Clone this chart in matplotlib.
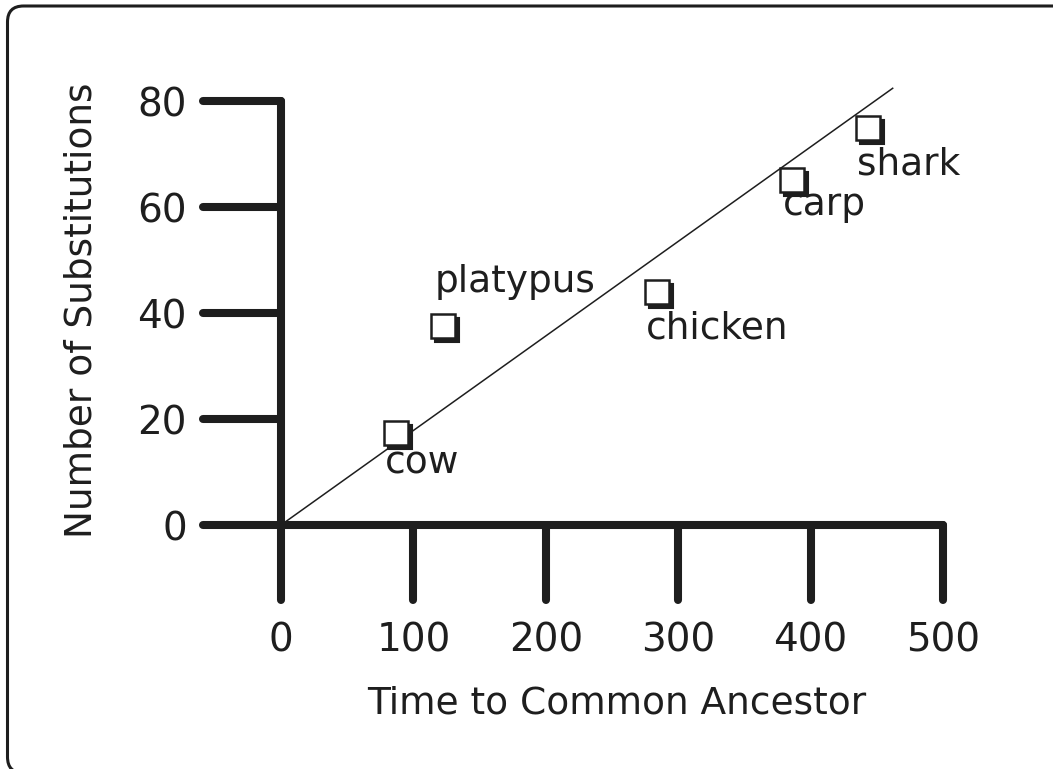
import matplotlib.pyplot as plt
from matplotlib.patches import FancyBboxPatch
from matplotlib.transforms import offset_copy, IdentityTransform

# data
animals = ["cow", "platypus", "chicken", "carp", "shark"]
time_ma = [87, 122, 284, 386, 443]
substitutions = [17.4, 37.6, 44.0, 65.1, 74.9]
fit_x = [0, 462]
fit_y = [0, 82.4]
x_ticks = [0, 100, 200, 300, 400, 500]
y_ticks = [0, 20, 40, 60, 80]

# label offsets (points) relative to each marker
label_offsets = {
    "cow": (-8, -29.5),
    "platypus": (-5.4, 24.5),
    "chicken": (-7.8, -33.5),
    "carp": (-6.5, -25.2),
    "shark": (-7.7, -33.8),
}

W, H = 1053, 769
fig = plt.figure(figsize=(W / 100, H / 100), dpi=100)
ink = "#1e1e1e"
fs = 28

# rounded frame, right and bottom edges run off the image
frame = FancyBboxPatch((7.5, -4), 1068, H - 5 + 4 - 1,
                       boxstyle="round,pad=0,rounding_size=16",
                       transform=IdentityTransform(), fill=False,
                       edgecolor=ink, linewidth=2.2, zorder=0)
fig.patches.append(frame)

xmin, ymin = -58.9, -14.15
ax = fig.add_axes([203 / W, (H - 600) / H, (943 - 203) / W, (600 - 101) / H])
ax.set_xlim(xmin, 500)
ax.set_ylim(ymin, 80)
ax.axis("off")

lw = 5.8
# axis lines and the long tick bars
ax.plot([0, 0], [ymin, 80], color=ink, lw=lw, solid_capstyle="round", clip_on=False)
ax.plot([xmin, 500], [0, 0], color=ink, lw=lw, solid_capstyle="round", clip_on=False)
for yt in y_ticks[1:]:
    ax.plot([xmin, 0], [yt, yt], color=ink, lw=lw, solid_capstyle="round", clip_on=False)
for xt in x_ticks[1:]:
    ax.plot([xt, xt], [ymin, 0], color=ink, lw=lw, solid_capstyle="round", clip_on=False)

# tick labels
for xt in x_ticks:
    ax.annotate(str(xt), (xt, ymin), xytext=(0, -15.5), textcoords="offset points",
                ha="center", va="top", fontsize=fs, color=ink)
for yt in y_ticks:
    ax.annotate(str(yt), (xmin, yt), xytext=(-11.5, -11), textcoords="offset points",
                ha="right", va="baseline", fontsize=fs, color=ink)

# fitted line
ax.plot(fit_x, fit_y, color=ink, lw=1.1, clip_on=False, zorder=2)

# squares with drop shadow
shadow = offset_copy(ax.transData, fig=fig, x=4, y=-4, units="dots")
ax.plot(time_ma, substitutions, ls="none", marker="s", ms=17, mfc=ink, mec=ink,
        mew=1.5, transform=shadow, zorder=3, clip_on=False)
ax.plot(time_ma, substitutions, ls="none", marker="s", ms=17, mfc="white", mec=ink,
        mew=1.8, zorder=4, clip_on=False)

for name, x, y in zip(animals, time_ma, substitutions):
    ax.annotate(name, (x, y), xytext=label_offsets[name], textcoords="offset points",
                ha="left", va="baseline", fontsize=27, color=ink)

fig.text(617 / W, 1 - 713 / H, "Time to Common Ancestor", ha="center",
         va="baseline", fontsize=27, color=ink)
fig.text(82 / W, 1 - 310 / H, "Number of Substitutions", rotation=90,
         ha="center", va="center", fontsize=27, color=ink)

fig.savefig("out.png", dpi=100)
